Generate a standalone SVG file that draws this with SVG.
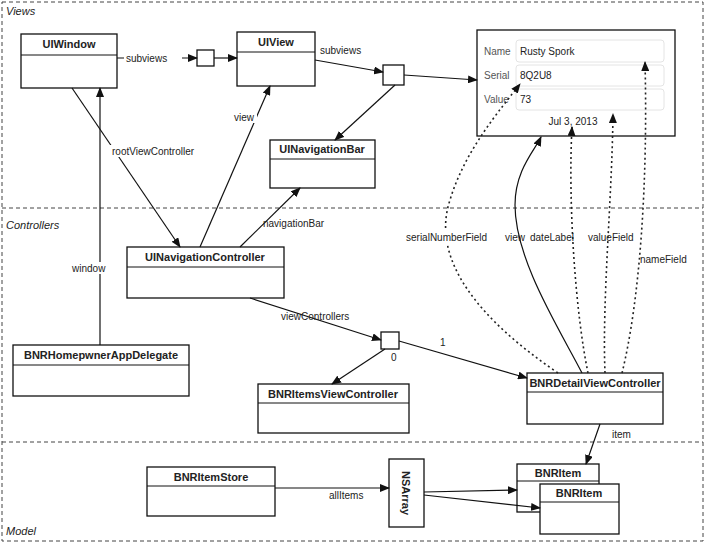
<svg xmlns="http://www.w3.org/2000/svg" width="707" height="545" viewBox="0 0 707 545">
<style>
text{font-family:"Liberation Sans",Arial,sans-serif;font-size:10px;fill:#222}
.h{font-weight:bold;font-size:11px;text-anchor:middle}
.sec{font-style:italic;font-size:11px}
.b{fill:#fff;stroke:#111;stroke-width:1.3}
.c{fill:none;stroke:#111;stroke-width:1.2;marker-end:url(#a)}
.d{fill:none;stroke:#222;stroke-width:1.6;stroke-dasharray:2 3;marker-end:url(#a)}
.f{fill:#fff;stroke:#e4e4e4;stroke-width:1}
.g{fill:#555}
.lb{fill:#fff}
</style>
<defs><marker id="a" markerWidth="10" markerHeight="8" refX="9" refY="4" orient="auto" markerUnits="userSpaceOnUse"><path d="M0,0L10,4L0,8z" fill="#111"/></marker></defs>
<rect width="707" height="545" fill="#fff"/>
<g id="sections" fill="none" stroke="#444" stroke-dasharray="4 3">
<rect x="2" y="2" width="701" height="539"/>
<line x1="2" y1="208" x2="703" y2="208"/>
<line x1="2" y1="442" x2="703" y2="442"/>
</g>
<text class="sec" x="6" y="15">Views</text>
<text class="sec" x="6" y="229">Controllers</text>
<text class="sec" x="6" y="535">Model</text>

<g id="UIWindow"><rect class="b" x="21" y="34" width="96" height="54"/><line x1="21" y1="55" x2="117" y2="55" stroke="#111"/><text class="h" x="69" y="48">UIWindow</text></g>
<g id="arr1"><rect class="b" x="197" y="50" width="17" height="16"/></g>
<g id="UIView"><rect class="b" x="237" y="32" width="78" height="54"/><line x1="237" y1="52" x2="315" y2="52" stroke="#111"/><text class="h" x="276" y="46">UIView</text></g>
<g id="arr2"><rect class="b" x="383" y="65" width="21" height="20"/></g>
<g id="screen"><rect class="b" x="477" y="30" width="198" height="106" stroke-width="1.6"/>
<rect class="f" x="516" y="40" width="148" height="22" rx="3"/><rect class="f" x="516" y="65" width="148" height="21" rx="3"/><rect class="f" x="516" y="89" width="148" height="21" rx="3"/>
<text class="g" x="484" y="55">Name</text><text x="520" y="55">Rusty Spork</text>
<text class="g" x="484" y="79">Serial</text><text x="520" y="79">8Q2U8</text>
<text class="g" x="484" y="103">Value</text><text x="520" y="103">73</text>
<text x="573" y="125" text-anchor="middle">Jul 3, 2013</text></g>
<g id="UINavigationBar"><rect class="b" x="270" y="140" width="105" height="48"/><line x1="270" y1="159" x2="375" y2="159" stroke="#111"/><text class="h" x="322" y="153">UINavigationBar</text></g>
<g id="UINavigationController"><rect class="b" x="127" y="247" width="157" height="51"/><line x1="127" y1="267" x2="284" y2="267" stroke="#111"/><text class="h" x="205" y="261">UINavigationController</text></g>
<g id="arr3"><rect class="b" x="381" y="332" width="18" height="17"/></g>
<g id="BNRHomepwnerAppDelegate"><rect class="b" x="13" y="345" width="176" height="51"/><line x1="13" y1="365" x2="189" y2="365" stroke="#111"/><text class="h" x="101" y="359">BNRHomepwnerAppDelegate</text></g>
<g id="BNRItemsViewController"><rect class="b" x="258" y="384" width="151" height="49"/><line x1="258" y1="403" x2="409" y2="403" stroke="#111"/><text class="h" x="333" y="398">BNRItemsViewController</text></g>
<g id="BNRDetailViewController"><rect class="b" x="527" y="373" width="136" height="51"/><line x1="527" y1="392" x2="663" y2="392" stroke="#111"/><text class="h" x="595" y="387">BNRDetailViewController</text></g>
<g id="BNRItemStore"><rect class="b" x="147" y="467" width="128" height="49"/><line x1="147" y1="486" x2="275" y2="486" stroke="#111"/><text class="h" x="211" y="481">BNRItemStore</text></g>
<g id="NSArray"><rect class="b" x="389" y="459" width="35" height="68"/><text class="h" transform="translate(402,493) rotate(90)">NSArray</text></g>
<g id="BNRItem1"><rect class="b" x="517" y="464" width="82" height="48"/><line x1="517" y1="481" x2="599" y2="481" stroke="#111"/><text class="h" x="558" y="477">BNRItem</text></g>
<g id="BNRItem2"><rect class="b" x="540" y="484" width="79" height="50"/><line x1="540" y1="502" x2="619" y2="502" stroke="#111"/><text class="h" x="579" y="497">BNRItem</text></g>

<g id="connectors">
<path class="c" d="M117,58H197"/>
<path class="c" d="M214,58H237"/>
<path class="c" d="M315,60L383,72"/>
<path class="c" d="M404,75L477,80"/>
<path class="c" d="M395,85L335,140"/>
<path class="c" d="M72,88L180,247"/>
<path class="c" d="M200,247L270,86"/>
<path class="c" d="M240,247L300,188"/>
<path class="c" d="M100,345V88"/>
<path class="c" d="M250,298L381,340"/>
<path class="c" d="M385,349L332,384"/>
<path class="c" d="M399,341L527,378"/>
<path class="c" d="M582,373C560,330 515,260 515,205C515,170 535,150 541,137"/>
<path class="d" d="M558,373C480,320 430,260 450,200C465,150 500,110 520,84"/>
<path class="d" d="M588,373C575,310 568,200 572,127"/>
<path class="d" d="M605,373C602,300 612,200 613,114"/>
<path class="d" d="M622,373C640,300 648,180 645,62"/>
<path class="c" d="M600,424L586,464"/>
<path class="c" d="M275,488H389"/>
<path class="c" d="M424,492L517,490"/>
<path class="c" d="M424,495L540,508"/>
<rect class="lb" x="124" y="52" width="58" height="12"/>
<text x="126" y="62">subviews</text>
<text x="320" y="54">subviews</text>
<rect class="lb" x="110" y="145" width="95" height="12"/>
<text x="112" y="155">rootViewController</text>
<rect class="lb" x="233" y="111" width="24" height="12"/>
<text x="234" y="121">view</text>
<text x="263" y="227">navigationBar</text>
<rect class="lb" x="70" y="262" width="40" height="12"/>
<text x="72" y="272">window</text>
<text x="281" y="320">viewControllers</text>
<text x="391" y="361">0</text>
<text x="440" y="346">1</text>
<rect class="lb" x="404" y="231" width="88" height="12"/>
<text x="406" y="241">serialNumberField</text>
<text x="505" y="241">view</text>
<text x="530" y="241">dateLabel</text>
<text x="588" y="241">valueField</text>
<text x="640" y="263">nameField</text>
<text x="612" y="438">item</text>
<text x="329" y="499">allItems</text>
</g>
</svg>
